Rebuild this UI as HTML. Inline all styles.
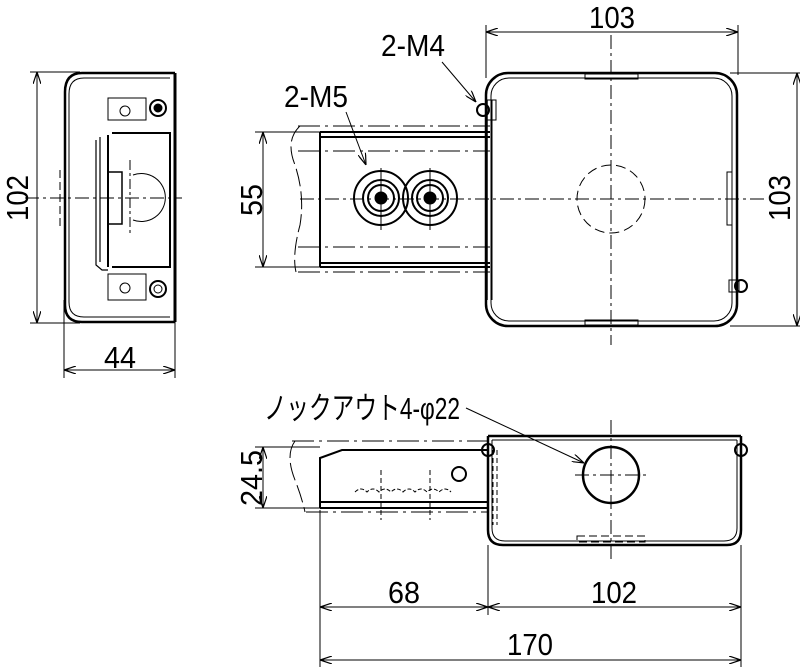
<!DOCTYPE html>
<html><head><meta charset="utf-8"><style>
html,body{margin:0;padding:0;background:#fff;}
svg{display:block;}
text{font-family:"Liberation Sans","Noto Sans CJK JP",sans-serif;fill:#000;}
</style></head><body>
<svg width="800" height="667" viewBox="0 0 800 667" xmlns="http://www.w3.org/2000/svg">
<defs>
<marker id="a" viewBox="0 0 12 8" refX="12" refY="4" markerWidth="12" markerHeight="8" orient="auto-start-reverse" markerUnits="userSpaceOnUse"><path d="M0,0 L12,4 L0,8" fill="none" stroke="#000" stroke-width="1.2"/></marker>
</defs>
<g stroke="#000" fill="none" stroke-width="1">
<!-- LEFT VIEW -->
<line x1="30" y1="72" x2="80" y2="72"/><line x1="30" y1="323" x2="80" y2="323"/>
<line x1="37" y1="72" x2="37" y2="323" marker-start="url(#a)" marker-end="url(#a)"/>
<line x1="64" y1="300" x2="64" y2="378"/><line x1="175" y1="300" x2="175" y2="378"/>
<line x1="64" y1="370" x2="175" y2="370" marker-start="url(#a)" marker-end="url(#a)"/>
<path d="M175,73 L82,73 Q65,73 65,92 L65,305 Q65,322 82,322 L175,322" stroke-width="2.5"/>
<path d="M170,78 L84,78 Q69,78 69,94 L69,302 Q69,317 84,317 L170,317" stroke-width="1"/>
<line x1="175" y1="73" x2="175" y2="322" stroke-width="3"/>
<path d="M108,98 H146 V120 H108 Z M108,274 H146 V300 H108 Z"/>
<circle cx="125" cy="111" r="5"/><circle cx="125" cy="288" r="5"/>
<circle cx="158" cy="108" r="8" stroke-width="2"/><circle cx="158" cy="108" r="4" fill="#000"/>
<circle cx="158" cy="289" r="8" stroke-width="2"/><circle cx="158" cy="289" r="4"/>
<path d="M108,135 L108,267 M112,133 L170,133 L170,267 L112,267" stroke-width="2"/>
<path d="M96,140 L96,265 L102,270 L108,270 M100,137 L100,262" stroke-width="1.2"/>
<path d="M133,175 A24,24 0 1 1 133,220" />
<path d="M108,172 L122,172 L122,224 L108,224" stroke-width="1.5"/>
<line x1="25" y1="198" x2="182" y2="198" stroke-dasharray="14,4,3,4"/>
<line x1="130" y1="160" x2="130" y2="235" stroke-dasharray="10,3,3,3"/>
<line x1="60" y1="170" x2="60" y2="230" stroke-dasharray="8,4"/>
<!-- TOP VIEW -->
<line x1="486" y1="25" x2="486" y2="78"/><line x1="738" y1="25" x2="738" y2="75"/>
<line x1="486" y1="32" x2="738" y2="32" marker-start="url(#a)" marker-end="url(#a)"/>
<line x1="730" y1="73" x2="805" y2="73"/><line x1="730" y1="326" x2="805" y2="326"/>
<line x1="797" y1="73" x2="797" y2="326" marker-start="url(#a)" marker-end="url(#a)"/>
<rect x="486" y="73" width="251" height="253" rx="22" stroke-width="2.5"/>
<rect x="491" y="78" width="241" height="243" rx="18"/>
<rect x="585" y="74" width="53" height="5"/><rect x="585" y="320" width="53" height="5"/>
<rect x="727" y="172" width="5" height="53"/>
<line x1="300" y1="199" x2="765" y2="199" stroke-dasharray="14,4,3,4"/>
<line x1="611" y1="35" x2="611" y2="345" stroke-dasharray="14,4,3,4"/>
<circle cx="611" cy="199" r="34" stroke-dasharray="10,5"/>
<!-- channel -->
<line x1="255" y1="132" x2="320" y2="132"/><line x1="255" y1="267" x2="320" y2="267"/>
<line x1="263" y1="132" x2="263" y2="267" marker-start="url(#a)" marker-end="url(#a)"/>
<path d="M320,132 H490 M320,137 H490 M320,132 V267 M320,263 H490 M320,267 H490" stroke-width="2"/>
<path d="M298,126 H490 M298,151 H490 M298,247 H490 M298,272 H490" stroke-dasharray="22,5,3,5"/>
<path d="M300,126 Q285,140 295,165 Q305,195 300,225 Q292,255 296,272" stroke-dasharray="18,5"/>
<line x1="487" y1="100" x2="487" y2="300" stroke-width="1.5"/>
<line x1="492" y1="100" x2="492" y2="300"/>
<circle cx="381" cy="198" r="27" stroke-width="2"/><circle cx="430" cy="198" r="27" stroke-width="2"/>
<circle cx="381" cy="198" r="18" stroke-width="2"/><circle cx="430" cy="198" r="18" stroke-width="2"/>
<circle cx="381" cy="198" r="13" stroke-width="2"/><circle cx="430" cy="198" r="13" stroke-width="2"/>
<circle cx="381" cy="198" r="6" fill="#000"/><circle cx="430" cy="198" r="6" fill="#000"/>
<line x1="381" y1="168" x2="381" y2="230"/><line x1="430" y1="168" x2="430" y2="230"/>
<circle cx="483" cy="110" r="6" stroke-width="2"/><rect x="486" y="100" width="10" height="20"/>
<circle cx="741" cy="286" r="6" stroke-width="2"/><rect x="729" y="280" width="10" height="12"/>
<line x1="346" y1="112" x2="366" y2="165" marker-end="url(#a)"/>
<line x1="442" y1="62" x2="476" y2="102" marker-end="url(#a)"/>
<!-- BOTTOM VIEW -->
<line x1="255" y1="447" x2="320" y2="447"/><line x1="255" y1="508" x2="320" y2="508"/>
<line x1="263" y1="447" x2="263" y2="508" marker-start="url(#a)" marker-end="url(#a)"/>
<path d="M488,436 H741 M488,436 V530 Q488,545 503,545 H727 Q741,545 741,530 V436" stroke-width="2.5"/>
<path d="M492,440 H737 M492,440 V528 Q492,541 505,541 H724 Q737,541 737,528 V440"/>
<rect x="577" y="536" width="68" height="6" stroke-dasharray="8,4"/>
<path d="M320,508 V458 L342,450 H488 M320,502 H488 M320,508 H488" stroke-width="2"/>
<path d="M292,441 H488 M306,512 H488" stroke-dasharray="22,5,3,5"/>
<path d="M295,441 Q285,455 295,480 Q302,498 305,512" stroke-dasharray="18,5"/>
<line x1="493" y1="450" x2="493" y2="525" stroke-dasharray="5,3"/><line x1="497" y1="450" x2="497" y2="525" stroke-dasharray="5,3"/>
<circle cx="459" cy="474" r="7" stroke-width="2"/>
<path d="M355,492 q6,-6 12,0 q6,-6 12,0 q6,-6 12,0 q6,-6 12,0 q6,-6 12,0 q6,-6 12,0 q6,-6 12,0 q6,-6 12,0" stroke-dasharray="4,2"/>
<line x1="381" y1="470" x2="381" y2="520" stroke-dasharray="5,3"/><line x1="430" y1="470" x2="430" y2="520" stroke-dasharray="5,3"/>
<circle cx="611" cy="475" r="28" stroke-width="2.5"/>
<line x1="575" y1="475" x2="648" y2="475" stroke-dasharray="14,4,3,4"/>
<line x1="611" y1="420" x2="611" y2="560" stroke-dasharray="14,4,3,4"/>
<circle cx="488" cy="450" r="6" stroke-width="2"/><circle cx="741" cy="450" r="6" stroke-width="2"/>
<line x1="466" y1="408" x2="584" y2="463" marker-end="url(#a)"/>
<!-- dims bottom -->
<line x1="320" y1="510" x2="320" y2="667"/><line x1="488" y1="545" x2="488" y2="615"/><line x1="741" y1="545" x2="741" y2="667"/>
<line x1="320" y1="607" x2="488" y2="607" marker-start="url(#a)" marker-end="url(#a)"/>
<line x1="488" y1="607" x2="741" y2="607" marker-start="url(#a)" marker-end="url(#a)"/>
<line x1="320" y1="660" x2="741" y2="660" marker-start="url(#a)" marker-end="url(#a)"/>
</g>
<g font-size="31">
<text x="612" y="28" text-anchor="middle" textLength="46" lengthAdjust="spacingAndGlyphs">103</text>
<text x="413" y="56" text-anchor="middle" textLength="64" lengthAdjust="spacingAndGlyphs">2-M4</text>
<text x="316" y="107" text-anchor="middle" textLength="64" lengthAdjust="spacingAndGlyphs">2-M5</text>
<text transform="translate(28,198) rotate(-90)" text-anchor="middle" textLength="46" lengthAdjust="spacingAndGlyphs">102</text>
<text transform="translate(262,200) rotate(-90)" text-anchor="middle" textLength="32" lengthAdjust="spacingAndGlyphs">55</text>
<text transform="translate(790,198) rotate(-90)" text-anchor="middle" textLength="46" lengthAdjust="spacingAndGlyphs">103</text>
<text x="120" y="368" text-anchor="middle" textLength="32" lengthAdjust="spacingAndGlyphs">44</text>
<text x="362" y="419" text-anchor="middle" textLength="196" lengthAdjust="spacingAndGlyphs">ノックアウト4-φ22</text>
<text transform="translate(262,478) rotate(-90)" text-anchor="middle" textLength="56" lengthAdjust="spacingAndGlyphs">24.5</text>
<text x="404" y="603" text-anchor="middle" textLength="32" lengthAdjust="spacingAndGlyphs">68</text>
<text x="614" y="603" text-anchor="middle" textLength="46" lengthAdjust="spacingAndGlyphs">102</text>
<text x="530" y="655" text-anchor="middle" textLength="46" lengthAdjust="spacingAndGlyphs">170</text>
</g>
</svg>
</body></html>
